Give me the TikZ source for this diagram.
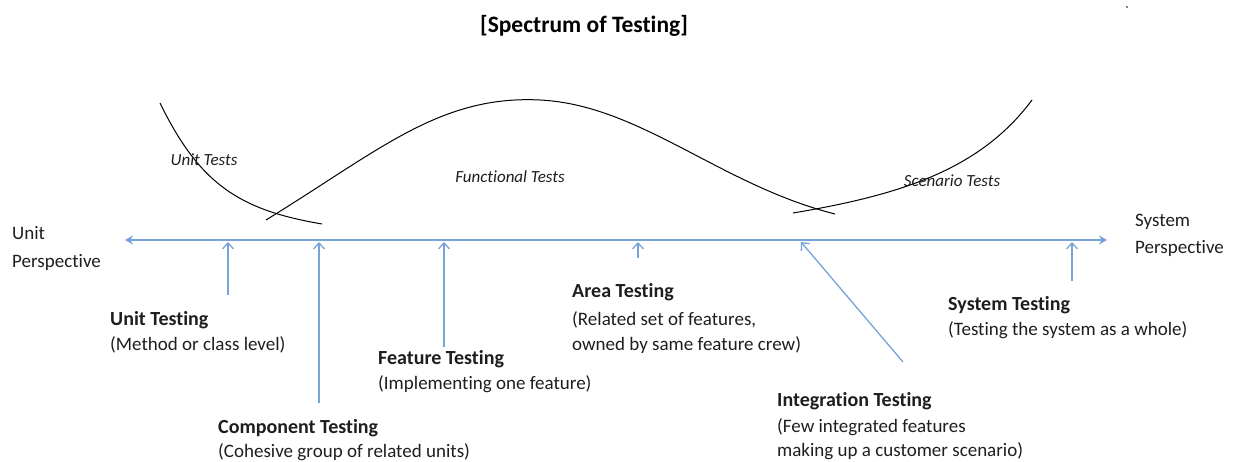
\documentclass[tikz,border=0pt]{standalone}
\usepackage{fontspec}
\setmainfont{Carlito}[Ligatures={NoCommon}]
\usetikzlibrary{arrows.meta}
\definecolor{axisblue}{RGB}{120,162,218}
\definecolor{txt}{RGB}{30,30,30}
\tikzset{
  axisline/.style={draw=axisblue, line width=2.6pt, {Stealth[length=8pt,width=9pt]}-{Stealth[length=8pt,width=9pt]}},
  pointer/.style={draw=axisblue, line width=1.3pt, -{Straight Barb[length=6pt,width=11pt]}},
  curve/.style={draw=black, line width=1pt},
  head/.style={anchor=base west, inner sep=0pt, font=\fontsize{20}{24}\selectfont\bfseries, text=txt},
  sub/.style={anchor=base west, inner sep=0pt, font=\fontsize{19}{23}\selectfont, text=txt},
  region/.style={inner sep=0pt, font=\fontsize{17}{20}\selectfont\itshape, text=txt},
}
\begin{document}
\begin{tikzpicture}[x=1pt,y=-1pt]
\useasboundingbox (0,0) rectangle (1237,462);
\node[font=\fontsize{23.5}{28}\selectfont\bfseries, inner sep=0pt] (title) at (584,26) {[Spectrum of Testing]};
\fill (1127,7) circle (0.8pt);

% axis
\coordinate (axL) at (125,240);
\coordinate (axR) at (1107,240);
\draw[axisline] (axL) -- (axR);

\node[sub] (up1) at (12,240) {Unit};
\node[sub] (up2) at (12,268) {Perspective};
\node[sub] (sp1) at (1135,227) {System};
\node[sub] (sp2) at (1135,254) {Perspective};

% curves
\draw[curve] (160,103) .. controls (200,185) and (240,210) .. (322,224);
\draw[curve] (266,220) .. controls (380,150) and (440,95) .. (540,100)
   .. controls (640,105) and (720,185) .. (835,214);
\draw[curve] (793,213) .. controls (900,195) and (980,170) .. (1032,100);

\node[region] (ut) at (204,160) {Unit Tests};
\node[region] (ft) at (510,177) {Functional Tests};
\node[region] (st) at (952,181) {Scenario Tests};

% test levels
\coordinate (a1) at (228,242); \coordinate (b1) at (228,295);
\coordinate (a2) at (319,242); \coordinate (b2) at (319,403);
\coordinate (a3) at (444,242); \coordinate (b3) at (444,347);
\coordinate (a4) at (638,242); \coordinate (b4) at (638,258);
\coordinate (a5) at (801,242); \coordinate (b5) at (903,362);
\coordinate (a6) at (1072,242); \coordinate (b6) at (1072,281);
\foreach \i in {1,...,6} {\draw[pointer] (b\i) -- (a\i);}

\node[head] (uth) at (110,326) {Unit Testing};
\node[sub] (uts) at (110,351) {(Method or class level)};
\node[head] (cth) at (218,433) {Component Testing};
\node[sub] (cts) at (218,457) {(Cohesive group of related units)};
\node[head] (fth) at (378,364) {Feature Testing};
\node[sub] (fts) at (378,389) {(Implementing one feature)};
\node[head] (ath) at (572,298) {Area Testing};
\node[sub] (ats1) at (572,326) {(Related set of features,};
\node[sub] (ats2) at (572,351) {owned by same feature crew)};
\node[head] (ith) at (777,406) {Integration Testing};
\node[sub] (its1) at (777,432) {(Few integrated features};
\node[sub] (its2) at (777,456) {making up a customer scenario)};
\node[head] (sth) at (948,311) {System Testing};
\node[sub] (sts) at (948,336) {(Testing the system as a whole)};
\end{tikzpicture}
\end{document}
